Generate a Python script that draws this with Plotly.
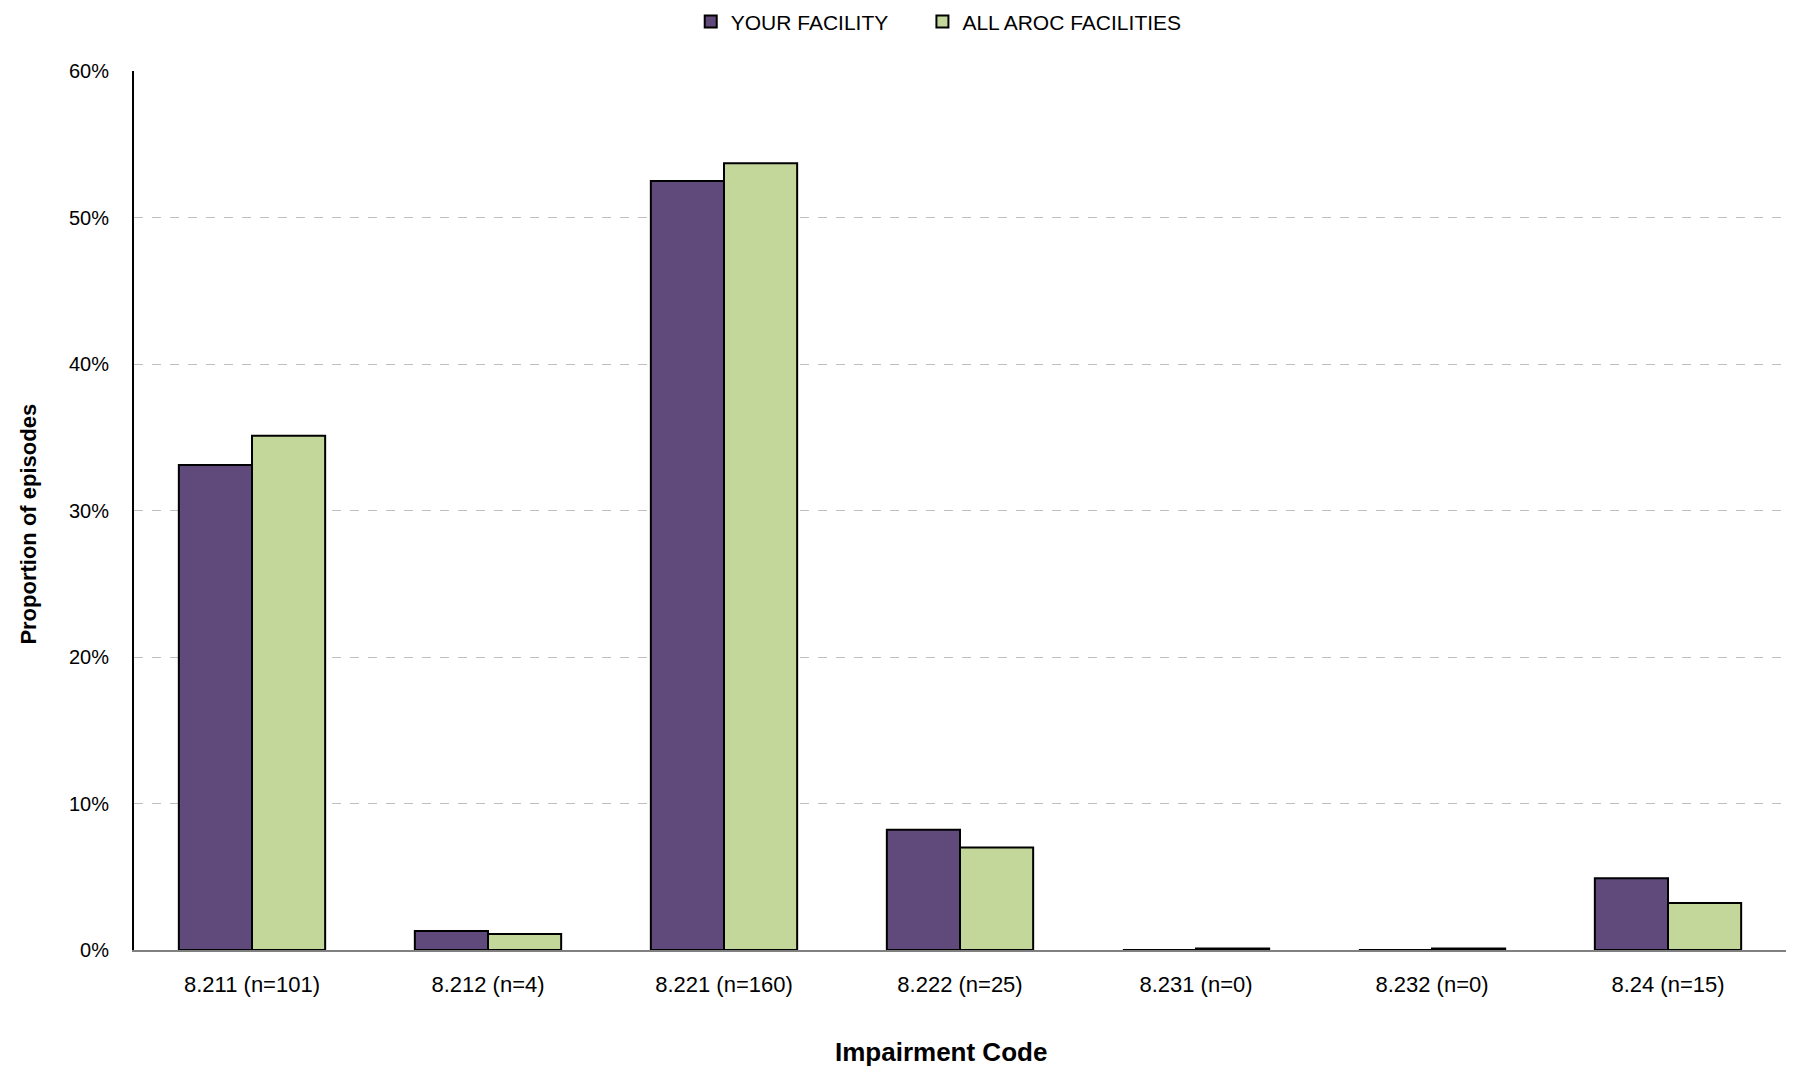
import plotly.graph_objects as go

categories = ["8.211 (n=101)", "8.212 (n=4)", "8.221 (n=160)", "8.222 (n=25)",
              "8.231 (n=0)", "8.232 (n=0)", "8.24 (n=15)"]
your_facility = [33.1, 1.3, 52.5, 8.2, 0.0, 0.0, 4.9]
all_aroc = [35.1, 1.1, 53.7, 7.0, 0.1, 0.1, 3.2]
y_ticks = [0, 10, 20, 30, 40, 50, 60]
y_tick_labels = ["0%", "10%", "20%", "30%", "40%", "50%", "60%"]
series_names = ["YOUR FACILITY", "ALL AROC FACILITIES"]

FONT = "Liberation Sans Narrow, Arial Narrow, Liberation Sans, Arial, sans-serif"
PAD = "\u00a0" * 5

fig = go.Figure()
fig.add_trace(go.Bar(x=categories, y=your_facility, name=series_names[0] + PAD,
                     marker=dict(color="#604A7B", line=dict(color="black", width=2))))
fig.add_trace(go.Bar(x=categories, y=all_aroc, name=series_names[1],
                     marker=dict(color="#C4D79B", line=dict(color="black", width=2))))

fig.update_layout(
    width=1797, height=1074,
    margin=dict(l=126, r=19, t=63, b=132, autoexpand=False),
    paper_bgcolor="white", plot_bgcolor="white",
    barmode="group", bargap=0.38, bargroupgap=0,
    font=dict(family=FONT, size=21, color="black"),
    legend=dict(orientation="h", x=0.337, xanchor="left", y=1.056, yanchor="middle",
                font=dict(family=FONT, size=21), itemsizing="constant", itemwidth=30),
    xaxis=dict(
        showline=True, linecolor="#808080", linewidth=2,
        ticks="", ticklabelstandoff=14, tickfont=dict(family=FONT, size=22),
    ),
    yaxis=dict(
        range=[0, 60], tickvals=y_ticks, ticktext=y_tick_labels,
        showline=True, linecolor="black", linewidth=2,
        showgrid=True, gridcolor="#BFBFBF", griddash="dash", gridwidth=1,
        zeroline=False, ticks="", ticklabelstandoff=19,
        tickfont=dict(family="Liberation Sans, Arial, sans-serif", size=20),
    ),
    annotations=[
        dict(text="<b>Impairment Code</b>", xref="paper", yref="paper",
             x=0.4885, y=-0.116, xanchor="center", yanchor="middle", showarrow=False,
             font=dict(family=FONT, size=26)),
        dict(text="<b>Proportion of episodes</b>", xref="paper", yref="paper",
             x=-0.0636, y=0.485, xanchor="center", yanchor="middle", showarrow=False,
             textangle=-90, font=dict(family=FONT, size=22)),
    ],
)

fig.write_html("out.html")
